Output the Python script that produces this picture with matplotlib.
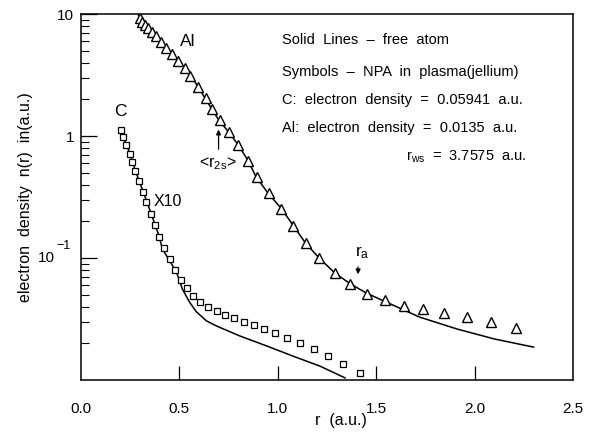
import matplotlib
matplotlib.use("Agg")
import matplotlib.pyplot as plt
import matplotlib.transforms as mtransforms
import numpy as np

plt.rcParams['font.family'] = ['Liberation Sans', 'DejaVu Sans']
plt.rcParams['mathtext.fontset'] = 'custom'
plt.rcParams['mathtext.rm'] = 'Liberation Sans'

# Al: free atom (line) and NPA in jellium (triangles)
al_line_r = [0.29, 0.30, 0.34, 0.38, 0.43, 0.50, 0.56, 0.63, 0.70, 0.75, 0.80, 0.85,
             0.89, 0.95, 1.02, 1.08, 1.14, 1.21, 1.29, 1.37, 1.45, 1.55, 1.72, 1.91, 2.10, 2.30]
al_line_n = [9.9, 9.27, 7.7, 6.6, 5.3, 4.1, 3.1, 2.05, 1.35, 1.08, 0.84, 0.624,
             0.461, 0.341, 0.252, 0.183, 0.133, 0.100, 0.0753, 0.0612, 0.0516, 0.0436,
             0.0328, 0.0262, 0.0217, 0.0186]

al_sym_r = [0.301, 0.311, 0.327, 0.342, 0.362, 0.383, 0.408, 0.434, 0.464, 0.495, 0.526,
            0.556, 0.597, 0.633, 0.668, 0.704, 0.750, 0.796, 0.847, 0.893, 0.954, 1.015,
            1.077, 1.143, 1.209, 1.291, 1.367, 1.454, 1.546, 1.643, 1.740, 1.847, 1.959,
            2.082, 2.209]
al_sym_n = [9.27, 8.6, 8.1, 7.7, 7.1, 6.6, 5.9, 5.26, 4.7, 4.12, 3.61,
            3.10, 2.52, 2.05, 1.66, 1.35, 1.08, 0.844, 0.624, 0.461, 0.341, 0.252,
            0.183, 0.133, 0.100, 0.0753, 0.0612, 0.0507, 0.0453, 0.0404, 0.0382, 0.0354,
            0.0328, 0.0298, 0.0267]

# C (x10): free atom (line) and NPA in jellium (squares)
c_line_r = [0.199, 0.214, 0.25, 0.276, 0.316, 0.357, 0.398, 0.413, 0.485, 0.515, 0.551,
            0.587, 0.638, 0.689, 0.806, 0.944, 1.077, 1.214, 1.342]
c_line_n = [1.16, 0.98, 0.71, 0.52, 0.35, 0.23, 0.149, 0.119, 0.0768, 0.0557, 0.0436,
            0.0361, 0.0305, 0.0277, 0.0230, 0.0190, 0.0157, 0.0130, 0.0104]

c_sym_r = [0.204, 0.214, 0.230, 0.250, 0.260, 0.276, 0.296, 0.316, 0.332, 0.357, 0.378,
           0.398, 0.423, 0.454, 0.480, 0.510, 0.541, 0.571, 0.607, 0.643, 0.689, 0.730,
           0.776, 0.827, 0.878, 0.929, 0.985, 1.046, 1.112, 1.184, 1.255, 1.332, 1.418]
c_sym_n = [1.12, 0.98, 0.84, 0.71, 0.61, 0.52, 0.43, 0.35, 0.29, 0.23, 0.186,
           0.149, 0.121, 0.098, 0.080, 0.066, 0.0568, 0.0489, 0.0436, 0.0397, 0.0368, 0.0341,
           0.0322, 0.0299, 0.0282, 0.0262, 0.0243, 0.0221, 0.0201, 0.0179, 0.0157, 0.0135, 0.0114]

x_ticks = [0.5, 1.0, 1.5, 2.0]
x_labels = ['0.0', '0.5', '1.0', '1.5', '2.0', '2.5']
y_ticks = [0.1, 1, 10]
y_labels = ['', '1', '10']

notes = ["Solid  Lines  \u2013  free  atom",
         "Symbols  \u2013  NPA  in  plasma(jellium)",
         "C:  electron  density  =  0.05941  a.u.",
         "Al:  electron  density  =  0.0135  a.u."]
rws_note = r"$\mathregular{r_{ws}}$  =  3.7575  a.u."

fig = plt.figure(figsize=(5.94, 4.32), dpi=100)
ax = fig.add_axes([81/594, 1-380/432, 492/594, 366/432])

ax.plot(al_line_r, al_line_n, color='black', lw=1.1)
ax.plot(c_line_r, c_line_n, color='black', lw=1.1)
ax.plot(al_sym_r, al_sym_n, ls='none', marker='^', ms=6.5, mfc='white', mec='black', mew=1.0)
ax.plot(c_sym_r, c_sym_n, ls='none', marker='s', ms=4.5, mfc='white', mec='black', mew=0.9)

ax.set_yscale('log')
ax.set_xlim(0, 2.5)
ax.set_ylim(0.01, 10)

ax.set_xticks(x_ticks)
ax.set_xticklabels([])
ax.tick_params(axis='x', which='major', direction='in', length=10, width=0.9, bottom=True, top=False)
for i, lab in enumerate(x_labels):
    ax.text(i * 0.5, -0.06, lab, transform=ax.get_xaxis_transform(), ha='center', va='top', fontsize=11)

ax.set_yticks(y_ticks)
ax.set_yticklabels(y_labels, fontsize=11)
ax.tick_params(axis='y', which='major', direction='in', length=11.5, width=0.9, pad=5, left=True, right=False)
ax.tick_params(axis='y', which='minor', direction='in', length=6, width=0.8, left=True, right=False)
# 10^-1 label drawn by hand: exponent sits above and right of the "10"
ax.text(-(81-55)/492, 0.1, "10", transform=ax.get_yaxis_transform(), ha='right', va='center', fontsize=11)
exp_tr = mtransforms.offset_copy(ax.get_yaxis_transform(), fig=fig, x=1, y=6, units='dots')
ax.text(-(81-55)/492, 0.1, "\u22121", transform=exp_tr, ha='left', va='bottom', fontsize=9)

for s in ax.spines.values():
    s.set_linewidth(1.1)

ax.set_xlabel("r  (a.u.)", fontsize=11.5)
ax.xaxis.set_label_coords((341-81)/492, -0.09)
ax.set_ylabel("electron  density  n(r)  in(a.u.)", fontsize=11.5)
ax.yaxis.set_label_coords(-0.097, 0.5)

# labels on curves
ax.text((188-81)/492, (380-41)/366, "Al", transform=ax.transAxes, ha='center', va='center', fontsize=12.5)
ax.text((120-81)/492, (380-112)/366, "C", transform=ax.transAxes, ha='center', va='center', fontsize=12.5)
ax.text((154-81)/492, (380-202)/366, "X10", transform=ax.transAxes, ha='left', va='center', fontsize=11.5)

ax.annotate("", xy=(0.699, 1.19), xytext=(0.699, 0.74),
            arrowprops=dict(arrowstyle='-|>', color='black', lw=0.9, mutation_scale=7))
ax.text(0.694, 0.589, r"<$\mathregular{r_{2s}}$>", ha='center', va='center', fontsize=11.5)

ax.annotate("", xy=(1.408, 0.0698), xytext=(1.408, 0.0893),
            arrowprops=dict(arrowstyle='-|>', color='black', lw=0.9, mutation_scale=7))
ax.text(1.43, 0.110, r"$\mathregular{r_a}$", ha='center', va='center', fontsize=12.5)

note_y = [40, 72, 100, 128]
for txt, py in zip(notes, note_y):
    ax.text((282-81)/492, (380-py)/366, txt, transform=ax.transAxes, ha='left', va='center', fontsize=10.5)
ax.text((406-81)/492, (380-157)/366, rws_note, transform=ax.transAxes, ha='left', va='center', fontsize=10.5)

fig.savefig("out.png", dpi=100)
